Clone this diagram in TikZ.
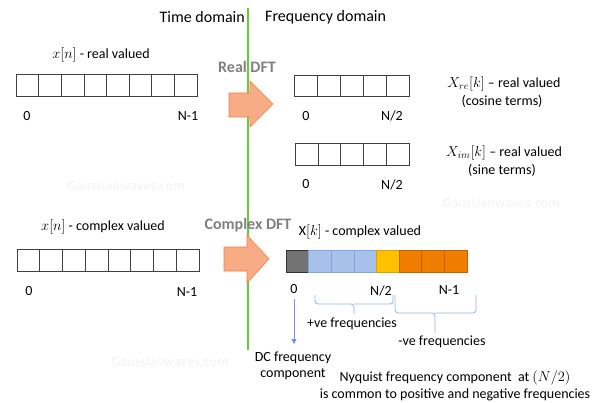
\documentclass[tikz,border=0pt]{standalone}
\usepackage{fontspec}
\setmainfont{Carlito}
\usetikzlibrary{arrows.meta}
\definecolor{domgreen}{RGB}{102,204,51}
\definecolor{arrfill}{RGB}{248,172,134}
\definecolor{arrline}{RGB}{240,128,64}
\definecolor{dftgray}{RGB}{128,128,128}
\definecolor{posblue}{RGB}{168,193,234}
\definecolor{posline}{RGB}{126,166,224}
\definecolor{nyqyellow}{RGB}{255,192,0}
\definecolor{negorange}{RGB}{240,124,0}
\definecolor{bracecol}{RGB}{142,180,227}

\begin{document}
\begin{tikzpicture}[x=1pt,y=-1pt,
    txt/.style={font=\fontsize{14}{16}\selectfont,inner sep=0pt},
    dom/.style={font=\fontsize{16}{18}\selectfont,inner sep=0pt},
    dft/.style={font=\fontsize{16}{18}\selectfont\bfseries,text=dftgray,inner sep=0pt},
    wmark/.style={font=\fontsize{14}{16}\selectfont\bfseries,text=black!4,inner sep=0pt},
    cell/.style={draw=black!75,line width=0.6pt},
    dftarrow/.style={draw=arrline,fill=arrfill,line width=0.6pt,line join=miter},
    fbrace/.style={draw=bracecol,line width=0.8pt,rounded corners=3pt}]
    \useasboundingbox (0,0) rectangle (596,403);
    % watermarks
    \node [wmark] (wm1) at (126,186) {Gaussianwaves.com};
    \node [wmark] (wm2) at (501,203) {Gaussianwaves.com};
    \node [wmark] (wm3) at (170,362) {Gaussianwaves.com};
    % time / frequency split
    \draw [domgreen,line width=1.2pt] (248,8)--(248,350);
    \node [dom,anchor=east] (tdom) at (245,17) {Time domain};
    \node [dom,anchor=west] (fdom) at (265,17) {Frequency domain};
    % real DFT
    \node [txt] (xnr) at (101,55) {$x[n]$ - real valued};
    \foreach \i in {0,...,7}
      \draw [cell] ({16+\i*22.625},74) rectangle ++(22.625,22);
    \node [txt] (xr0) at (27,116) {0};
    \node [txt] (xrN) at (188,116) {N-1};
    \node [dft] (rdft) at (247,67) {Real DFT};
    \draw [dftarrow] (229,93)--(250,93)--(250,81)--(273,104)--(250,127)--(250,117)--(229,117)--cycle;
    \foreach \i in {0,...,4}
      \draw [cell] ({294+\i*23},75) rectangle ++(23,21);
    \node [txt] (re0) at (306,116) {0};
    \node [txt] (reN) at (392,116) {N/2};
    \node [txt] (xre) at (504,84) {$X_{re}[k]$ -- real valued};
    \node [txt] (cos) at (502,101) {(cosine terms)};
    \foreach \i in {0,...,4}
      \draw [cell] ({295+\i*22.8},143) rectangle ++(22.8,22);
    \node [txt] (im0) at (306,184) {0};
    \node [txt] (imN) at (392,185) {N/2};
    \node [txt] (xim) at (504,153) {$X_{im}[k]$ -- real valued};
    \node [txt] (sin) at (502,170) {(sine terms)};
    % complex DFT
    \node [txt] (xnc) at (103,227) {$x[n]$ - complex valued};
    \foreach \i in {0,...,7}
      \draw [cell] ({17+\i*22.75},249) rectangle ++(22.75,22);
    \node [txt] (xc0) at (29,291) {0};
    \node [txt] (xcN) at (187,292) {N-1};
    \node [dft] (cdft) at (248,225) {Complex DFT};
    \draw [dftarrow] (224,247)--(247,247)--(247,235)--(269,259)--(247,283)--(247,271)--(224,271)--cycle;
    \node [txt] (xk) at (360,232) {X$[k]$ - complex valued};
    \draw [fill=black!55,draw=black!80,line width=0.6pt] (286,250) rectangle ++(22.6,22);
    \foreach \i in {1,...,3}
      \draw [fill=posblue,draw=posline,line width=0.6pt] ({286+\i*22.6},250) rectangle ++(22.6,22);
    \draw [fill=nyqyellow,draw=nyqyellow!85!black,line width=0.6pt] ({286+4*22.6},250) rectangle ++(22.6,22);
    \foreach \i in {5,...,7}
      \draw [fill=negorange,draw=negorange!80!black,line width=0.6pt] ({286+\i*22.6},250) rectangle ++(22.6,22);
    \node [txt] (k0) at (294,289) {0};
    \node [txt] (kN2) at (381,291) {N/2};
    \node [txt] (kN) at (449,290) {N-1};
    % braces
    \draw [fbrace] (315,295) |- (354,304) -- (354,314);
    \draw [fbrace] (393,295) |- (354,304);
    \draw [fbrace] (395,295) |- (435,313) -- (435,333);
    \draw [fbrace] (476,295) |- (435,313);
    \node [txt] (pos) at (352,324) {+ve frequencies};
    \node [txt] (neg) at (442,342) {-ve frequencies};
    \coordinate (dcend) at (294,344);
    \draw [-{Triangle[width=5pt,length=5pt]},bracecol!80!blue,line width=0.8pt] ([yshift=-5pt]k0.south)--(dcend);
    \node [txt] (dc1) at (293,358) {DC frequency};
    \node [txt] (dc2) at (293,374) {component};
    \node [txt] (nyq1) at (455,378) {Nyquist frequency component~ at $(N/2)$};
    \node [txt] (nyq2) at (455,395) {is common to positive and negative frequencies};
\end{tikzpicture}
\end{document}
